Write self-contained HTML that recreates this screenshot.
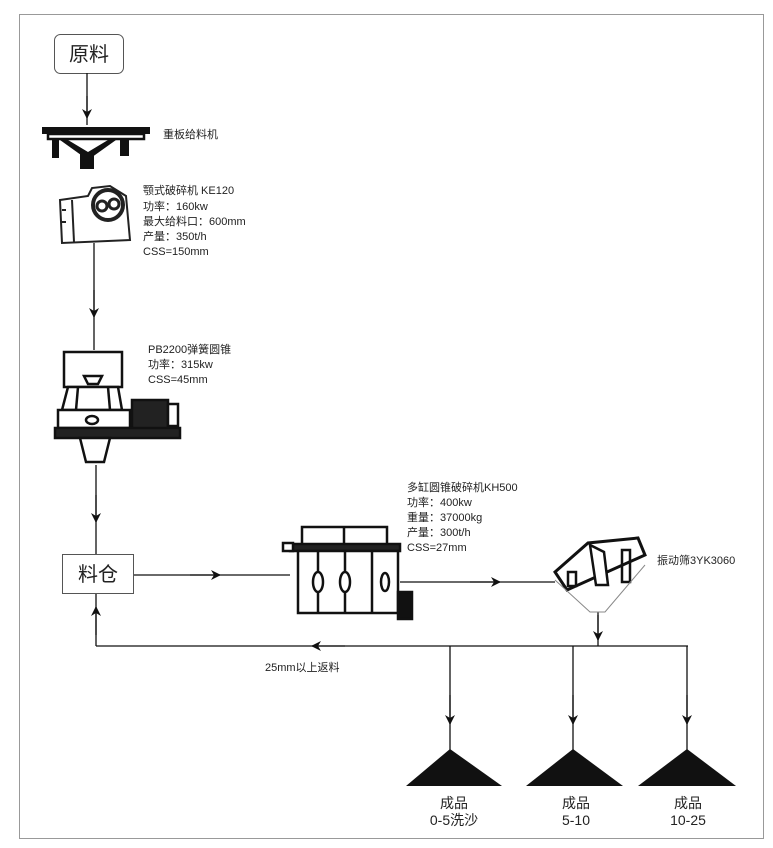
<!DOCTYPE html>
<html><head><meta charset="utf-8"><style>
body{margin:0;background:#fff;}
svg{display:block;}
text{font-family:"Liberation Sans","Noto Sans CJK SC",sans-serif;fill:#222;}
</style></head><body>
<svg width="773" height="848" viewBox="0 0 773 848" xmlns="http://www.w3.org/2000/svg">
<defs>
<marker id="a" markerWidth="10" markerHeight="10" refX="9" refY="5" orient="auto" markerUnits="userSpaceOnUse"><path d="M0,0 L10,5 L0,10 L3,5 Z" fill="#111"/></marker>
</defs>
<rect x="19.5" y="14.5" width="744" height="824" fill="none" stroke="#999" stroke-width="1"/>
<rect x="54.5" y="34.5" width="69" height="39" rx="6" fill="#fff" stroke="#555"/>
<text x="89" y="61" font-size="20" text-anchor="middle">原料</text>
<g stroke="#111" stroke-width="1.3" fill="none">
<line x1="87" y1="73" x2="87" y2="125"/>
<line x1="87" y1="96" x2="87" y2="118" marker-end="url(#a)"/>
<line x1="94" y1="243" x2="94" y2="350"/>
<line x1="94" y1="290" x2="94" y2="317" marker-end="url(#a)"/>
<line x1="96" y1="465" x2="96" y2="554"/>
<line x1="96" y1="495" x2="96" y2="522" marker-end="url(#a)"/>
<line x1="133" y1="575" x2="290" y2="575"/>
<line x1="190" y1="575" x2="220" y2="575" marker-end="url(#a)"/>
<line x1="400" y1="582" x2="555" y2="582"/>
<line x1="470" y1="582" x2="500" y2="582" marker-end="url(#a)"/>
<line x1="598" y1="612" x2="598" y2="646"/>
<line x1="598" y1="615" x2="598" y2="640" marker-end="url(#a)"/>
<line x1="96" y1="646" x2="688" y2="646"/>
<line x1="96" y1="646" x2="96" y2="594"/>
<line x1="96" y1="635" x2="96" y2="607" marker-end="url(#a)"/>
<line x1="345" y1="646" x2="312" y2="646" marker-end="url(#a)"/>
<line x1="450" y1="646" x2="450" y2="750"/>
<line x1="573" y1="646" x2="573" y2="750"/>
<line x1="687" y1="646" x2="687" y2="750"/>
<line x1="450" y1="695" x2="450" y2="724" marker-end="url(#a)"/>
<line x1="573" y1="695" x2="573" y2="724" marker-end="url(#a)"/>
<line x1="687" y1="695" x2="687" y2="724" marker-end="url(#a)"/>
</g>
<g fill="#111">
<rect x="42" y="127" width="108" height="7"/>
<rect x="48" y="134" width="96" height="5" fill="none" stroke="#111" stroke-width="2.5"/>
<polygon points="60,140 88,160 116,140 108,140 88,152 68,140"/>
<rect x="80" y="152" width="14" height="17"/>
<rect x="52" y="138" width="7" height="20"/>
<rect x="120" y="138" width="9" height="18"/>
</g>
<text x="163" y="138" font-size="11">重板给料机</text>
<g stroke="#222" stroke-width="2" fill="#fff">
<path d="M60,200 L88,196 L92,188 L110,186 L126,196 L130,240 L62,243 Z"/>
<circle cx="108" cy="205" r="15" fill="none" stroke-width="4"/>
<circle cx="102" cy="206" r="5" fill="none" stroke-width="3"/>
<circle cx="114" cy="204" r="5" fill="none" stroke-width="3"/>
<line x1="72" y1="200" x2="74" y2="242"/>
<line x1="62" y1="210" x2="66" y2="210"/><line x1="62" y1="222" x2="66" y2="222"/>
</g>
<g font-size="11"><text x="143" y="194">颚式破碎机 KE120</text><text x="143" y="210">功率：160kw</text><text x="143" y="225">最大给料口：600mm</text><text x="143" y="240">产量：350t/h</text><text x="143" y="255">CSS=150mm</text></g>
<g stroke="#111" stroke-width="2.5" fill="#fff">
<rect x="64" y="352" width="58" height="35"/>
<path d="M68,387 L118,387 L122,410 L62,410 Z"/>
<line x1="78" y1="387" x2="76" y2="410"/><line x1="108" y1="387" x2="110" y2="410"/>
<rect x="58" y="410" width="72" height="18"/>
<rect x="132" y="400" width="36" height="30" fill="#222"/>
<rect x="168" y="404" width="10" height="22"/>
<rect x="55" y="428" width="125" height="10" fill="#222"/>
<path d="M80,438 L110,438 L104,462 L86,462 Z"/>
<ellipse cx="92" cy="420" rx="6" ry="4"/>
<path d="M84,376 L102,376 L98,384 L88,384 Z"/>
</g>
<g font-size="11"><text x="148" y="353">PB2200弹簧圆锥</text><text x="148" y="368">功率：315kw</text><text x="148" y="383">CSS=45mm</text></g>
<rect x="62.5" y="554.5" width="71" height="39" fill="#fff" stroke="#555"/>
<text x="98" y="581" font-size="20" text-anchor="middle">料仓</text>
<g stroke="#111" stroke-width="2.5" fill="#fff">
<rect x="302" y="527" width="85" height="18"/>
<line x1="344" y1="527" x2="344" y2="545"/>
<rect x="290" y="544" width="110" height="7" fill="#222"/>
<rect x="298" y="551" width="100" height="62"/>
<line x1="318" y1="551" x2="318" y2="613"/>
<line x1="345" y1="551" x2="345" y2="613"/>
<line x1="372" y1="551" x2="372" y2="613"/>
<ellipse cx="318" cy="582" rx="5" ry="10"/>
<ellipse cx="345" cy="582" rx="5" ry="10"/>
<ellipse cx="385" cy="582" rx="4" ry="9"/>
<rect x="398" y="592" width="14" height="27" fill="#111"/>
<rect x="283" y="543" width="10" height="8"/>
</g>
<g font-size="11"><text x="407" y="491">多缸圆锥破碎机KH500</text><text x="407" y="506">功率：400kw</text><text x="407" y="521">重量：37000kg</text><text x="407" y="536">产量：300t/h</text><text x="407" y="551">CSS=27mm</text></g>
<g stroke="#111" stroke-width="2.5" fill="none">
<path d="M555,572 L588,543 L638,538 L645,555 L567,590 Z" stroke-width="3"/>
<polygon points="590,545 596,585 608,585 604,552" fill="#fff"/>
<rect x="622" y="550" width="8" height="32"/>
<rect x="568" y="572" width="8" height="14"/>
<polyline points="555,580 590,612 605,612 645,565" stroke-width="1" stroke="#888"/>
</g>
<text x="657" y="564" font-size="11">振动筛3YK3060</text>
<text x="265" y="671" font-size="11">25mm以上返料</text>
<g fill="#111">
<polygon points="450,749 502,786 406,786"/>
<polygon points="573,749 623,786 526,786"/>
<polygon points="687,749 736,786 638,786"/>
</g>
<g font-size="14" text-anchor="middle">
<text x="454" y="808">成品</text><text x="454" y="825">0-5洗沙</text>
<text x="576" y="808">成品</text><text x="576" y="825">5-10</text>
<text x="688" y="808">成品</text><text x="688" y="825">10-25</text>
</g>
</svg>
</body></html>
